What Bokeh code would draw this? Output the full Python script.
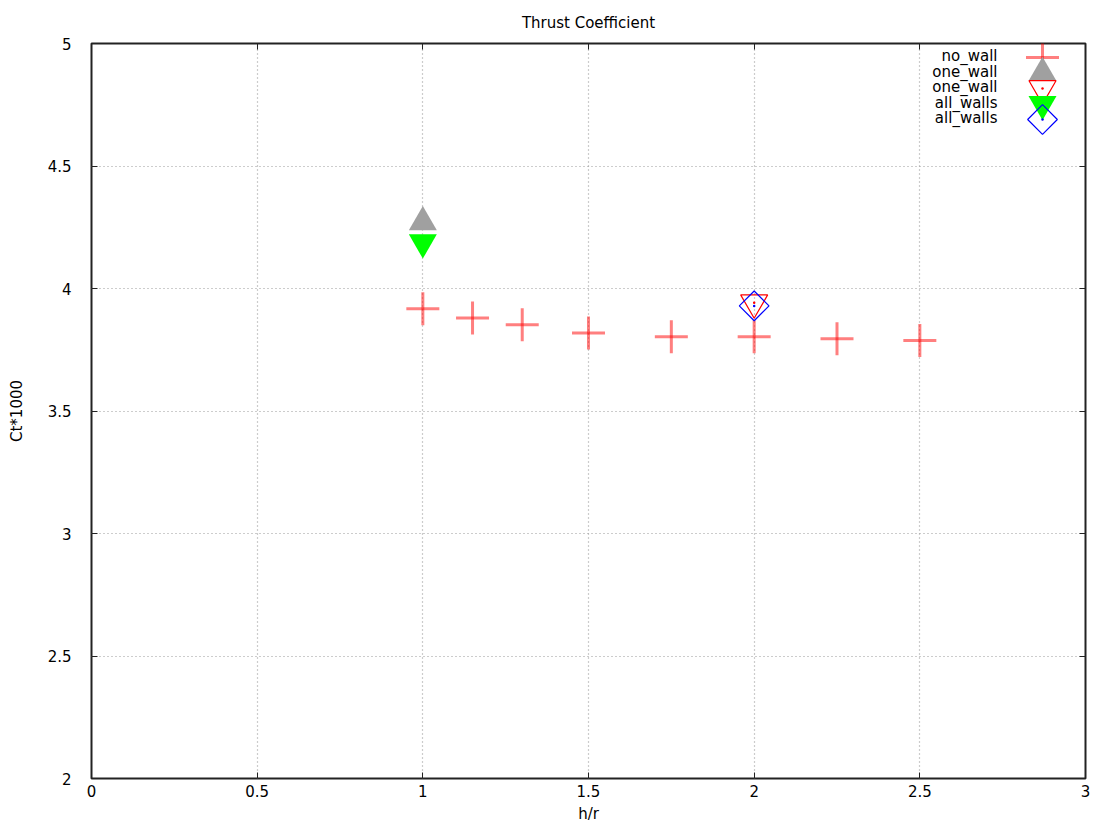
from bokeh.plotting import figure
from bokeh.models import Range1d, LinearAxis, FixedTicker
from bokeh.core.properties import value
from bokeh.embed import file_html
from bokeh.resources import INLINE

# ---------------- data ----------------
TITLE = "Thrust Coefficient"
X_LABEL = "h/r"
Y_LABEL = "Ct*1000"
X_TICKS = [0, 0.5, 1, 1.5, 2, 2.5, 3]
X_TICK_LABELS = ["0", "0.5", "1", "1.5", "2", "2.5", "3"]
Y_TICKS = [2, 2.5, 3, 3.5, 4, 4.5, 5]
Y_TICK_LABELS = ["2", "2.5", "3", "3.5", "4", "4.5", "5"]

NO_WALL_X = [1.0, 1.15, 1.3, 1.5, 1.75, 2.0, 2.25, 2.5]
NO_WALL_Y = [3.917, 3.880, 3.852, 3.818, 3.803, 3.803, 3.795, 3.788]
ONE_WALL_A_X = [1.0]
ONE_WALL_A_Y = [4.271]
ONE_WALL_B_X = [2.0]
ONE_WALL_B_Y = [3.942]
ALL_WALLS_A_X = [1.0]
ALL_WALLS_A_Y = [4.188]
ALL_WALLS_B_X = [2.0]
ALL_WALLS_B_Y = [3.929]
SERIES_LABELS = ["no_wall", "one_wall", "one_wall", "all_walls", "all_walls"]

X0, X1, Y0, Y1 = 0, 3, 2, 5

# ---------------- layout ----------------
W, H = 1096, 829
ML, MR, MT, MB = 91, 11, 43, 51
FONT = "DejaVu Sans"
FS = "15px"

p = figure(width=W, height=H, output_backend="svg", toolbar_location=None,
           x_range=Range1d(X0, X1), y_range=Range1d(Y0, Y1),
           min_border_left=ML, min_border_right=MR,
           min_border_top=MT, min_border_bottom=MB,
           title=TITLE)
p.background_fill_color = "white"
p.border_fill_color = "white"
p.outline_line_color = "#222222"
p.outline_line_width = 2

p.title.align = "center"
p.title.text_font = FONT
p.title.text_font_size = FS
p.title.text_font_style = "normal"
p.title.text_color = "black"
p.title.standoff = 23

fw = W - ML - MR
fh = H - MT - MB
def px_x(px):
    return X0 + (px - ML) / fw * (X1 - X0)
def px_y(px):
    return Y1 - (px - MT) / fh * (Y1 - Y0)

def style_axis(ax, ticks, labels, show_labels=True):
    ax.ticker = FixedTicker(ticks=ticks)
    ax.axis_line_color = None
    ax.major_tick_in = 6
    ax.major_tick_out = 0
    ax.major_tick_line_color = "#222222"
    ax.major_tick_line_width = 1
    ax.minor_tick_line_color = None
    ax.major_label_text_font = FONT
    ax.major_label_text_color = "black"
    ax.axis_label_text_font = FONT
    ax.axis_label_text_font_size = FS
    ax.axis_label_text_font_style = "normal"
    ax.axis_label_text_color = "black"
    if show_labels:
        ax.major_label_overrides = {float(t): l for t, l in zip(ticks, labels)}
        ax.major_label_text_font_size = FS
    else:
        ax.major_label_overrides = {float(t): "" for t in ticks}
        ax.major_label_text_font_size = "0px"
        ax.major_label_standoff = 0

xa = p.xaxis[0]
ya = p.yaxis[0]
style_axis(xa, X_TICKS, X_TICK_LABELS)
style_axis(ya, Y_TICKS, Y_TICK_LABELS)
xa.axis_label = X_LABEL
ya.axis_label = Y_LABEL
xa.major_label_standoff = 6
xa.axis_label_standoff = 5
ya.major_label_standoff = 20
ya.axis_label_standoff = 19

top = LinearAxis()
style_axis(top, X_TICKS, X_TICK_LABELS, show_labels=False)
p.add_layout(top, "above")
right = LinearAxis()
style_axis(right, Y_TICKS, Y_TICK_LABELS, show_labels=False)
p.add_layout(right, "right")

p.xgrid.ticker = FixedTicker(ticks=X_TICKS)
p.ygrid.ticker = FixedTicker(ticks=Y_TICKS)
p.grid.grid_line_color = "#9a9a9a"
p.grid.grid_line_dash = "1 3"
p.grid.grid_line_width = 1.2

# ---------------- legend key positions (layout) ----------------
KEY_X = px_x(1042)
TEXT_X = px_x(997)
ROW_PX = [57 + 15.5 * i for i in range(5)]
KEY_Y = [px_y(r) for r in ROW_PX]
TEXT_Y = [px_y(r - 1.5) for r in ROW_PX]

p.text(x=[TEXT_X] * 5, y=TEXT_Y, text=SERIES_LABELS,
       text_align="right", text_baseline="middle",
       text_font=value(FONT), text_font_size=value(FS), text_color="black")

# ---------------- series (data + key) ----------------
RED = "#ff0000"

def plus(xs, ys):
    # two separate strokes so the centre overlaps darker, as in the original
    p.scatter(xs, ys, marker="dash", size=33, angle=0.0,
              line_color=RED, line_alpha=0.5, line_width=3)
    p.scatter(xs, ys, marker="dash", size=33, angle=1.5708,
              line_color=RED, line_alpha=0.5, line_width=3)

# no_wall
plus(NO_WALL_X, NO_WALL_Y)
plus([KEY_X], [KEY_Y[0]])
# one_wall (filled gray triangle)
p.scatter(ONE_WALL_A_X, ONE_WALL_A_Y, marker="triangle", size=28,
          fill_color="#a0a0a0", line_color=None)
p.scatter([KEY_X], [KEY_Y[1]], marker="triangle", size=28,
          fill_color="#a0a0a0", line_color=None)
# one_wall (open red inverted triangle)
p.scatter(ONE_WALL_B_X, ONE_WALL_B_Y, marker="inverted_triangle", size=27,
          fill_color=None, line_color=RED, line_width=1.2)
p.scatter(ONE_WALL_B_X, ONE_WALL_B_Y, marker="circle", size=2.5,
          fill_color=RED, line_color=None)
p.scatter([KEY_X], [KEY_Y[2]], marker="inverted_triangle", size=27,
          fill_color=None, line_color=RED, line_width=1.2)
p.scatter([KEY_X], [KEY_Y[2]], marker="circle", size=2.5,
          fill_color=RED, line_color=None)
# all_walls (filled green inverted triangle)
p.scatter(ALL_WALLS_A_X, ALL_WALLS_A_Y, marker="inverted_triangle", size=28,
          fill_color="#00ff00", line_color=None)
p.scatter([KEY_X], [KEY_Y[3]], marker="inverted_triangle", size=28,
          fill_color="#00ff00", line_color=None)
# all_walls (open blue diamond)
p.scatter(ALL_WALLS_B_X, ALL_WALLS_B_Y, marker="square", angle=0.7854, size=21,
          fill_color=None, line_color="#0000ff", line_width=1.2)
p.scatter(ALL_WALLS_B_X, ALL_WALLS_B_Y, marker="circle", size=2.5,
          fill_color="#0000ff", line_color=None)
p.scatter([KEY_X], [KEY_Y[4]], marker="square", angle=0.7854, size=21,
          fill_color=None, line_color="#0000ff", line_width=1.2)
p.scatter([KEY_X], [KEY_Y[4]], marker="circle", size=2.5,
          fill_color="#0000ff", line_color=None)

open("out.html", "w").write(file_html(p, INLINE))
